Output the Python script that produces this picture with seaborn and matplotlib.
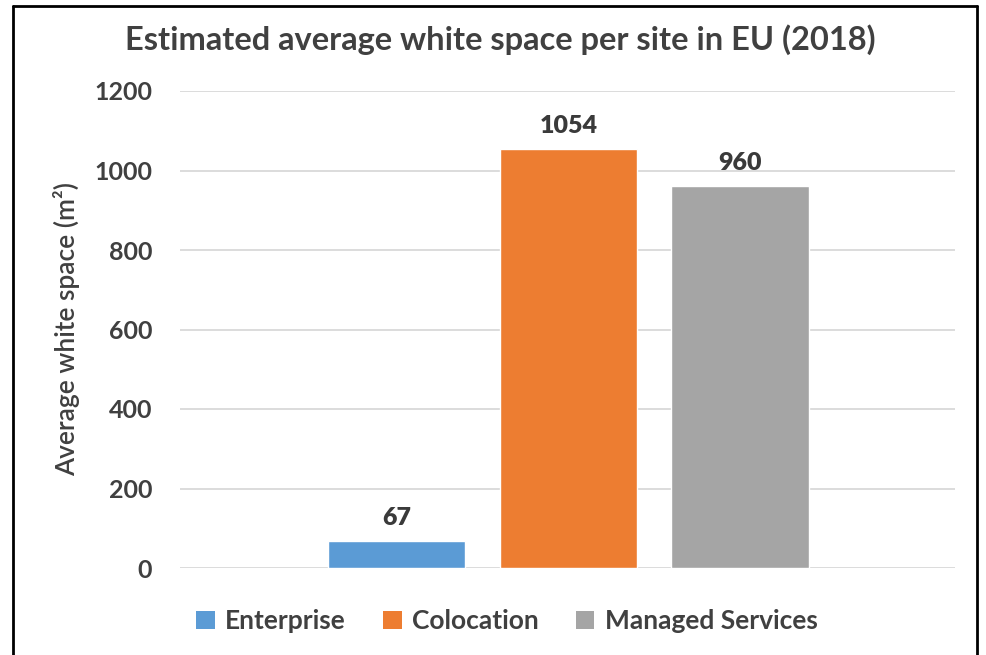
import matplotlib
matplotlib.use("Agg")
import matplotlib.pyplot as plt
from matplotlib.patches import Patch
from matplotlib.lines import Line2D
import seaborn as sns
import pandas as pd

categories = ["Enterprise", "Colocation", "Managed Services"]
values = [67, 1054, 960]
colors = ["#5B9BD5", "#ED7D31", "#A5A5A5"]
y_ticks = [0, 200, 400, 600, 800, 1000, 1200]

sns.set_theme(style="white")
plt.rcParams["font.family"] = ["Lato", "DejaVu Sans"]

W, H = 987, 655
fig = plt.figure(figsize=(W / 100, H / 100), dpi=100)
ax = fig.add_axes([180 / W, 1 - 568 / H, (955 - 180) / W, (568 - 91) / H])

df = pd.DataFrame({"Type": categories, "Value": values})
sns.barplot(data=df, x="Type", y="Value", hue="Type", palette=colors,
            width=0.8, saturation=1, legend=False, ax=ax, zorder=3)

ax.set_ylim(0, 1200)
ax.set_xlim(-1.26, 3.25)
ax.set_yticks(y_ticks)
ax.set_yticklabels([str(t) for t in y_ticks])
ax.set_xticks([])
ax.set_xlabel("")
ax.set_ylabel("Average white space (m²)", fontsize=19, color="#404040",
              fontweight="semibold", labelpad=10)
ax.yaxis.grid(True, color="#D9D9D9", linewidth=1.3, zorder=0)
ax.tick_params(axis="y", length=0, pad=20, labelsize=18, labelcolor="#404040")
for lbl in ax.get_yticklabels():
    lbl.set_fontweight("bold")
for s in ax.spines.values():
    s.set_visible(False)

# value labels above each bar
for cont in ax.containers:
    for bar in cont:
        h = bar.get_height()
        ax.annotate(f"{h:.0f}", (bar.get_x() + bar.get_width() / 2, h),
                    xytext=(0, 9), textcoords="offset points",
                    ha="center", va="bottom", fontsize=18,
                    fontweight="heavy", color="#3A3A3A")

fig.text(0.507, 1 - 40 / H, "Estimated average white space per site in EU (2018)",
         ha="center", va="center", fontsize=23.5, fontweight="bold",
         color="#404040")

handles = [Patch(facecolor=c, edgecolor="none") for c in colors]
fig.legend(handles, categories, loc="center", bbox_to_anchor=(507 / W, 1 - 621 / H),
           ncol=3, frameon=False, handlelength=0.7, handleheight=0.7,
           handletextpad=0.4, columnspacing=1.4,
           prop={"size": 19, "weight": "bold"}, labelcolor="#404040")

# outer frame
lw = 2
fig.add_artist(Line2D([13 / W, 13 / W], [0, 1 - 6 / H], color="black", lw=lw,
                      transform=fig.transFigure))
fig.add_artist(Line2D([977 / W, 977 / W], [0, 1 - 6 / H], color="black", lw=lw,
                      transform=fig.transFigure))
fig.add_artist(Line2D([13 / W, 977 / W], [1 - 6 / H, 1 - 6 / H], color="black",
                      lw=lw, transform=fig.transFigure))

fig.savefig("out.png", dpi=100)
